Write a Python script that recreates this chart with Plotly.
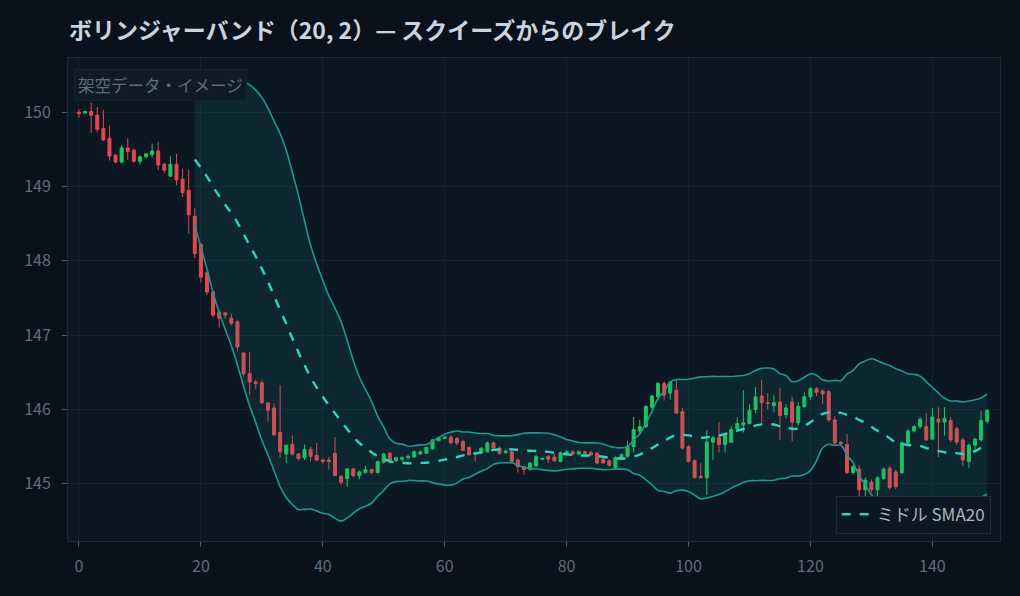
import plotly.graph_objects as go
import pandas as pd

idx = list(range(150))

open_ = [150.00,149.99,150.01,149.96,149.78,149.65,149.42,149.33,149.52,149.49,
         149.34,149.40,149.43,149.48,149.30,149.14,149.30,149.10,148.95,148.60,
         148.22,147.84,147.58,147.31,147.30,147.23,147.18,146.76,146.48,146.37,
         146.36,146.09,146.02,145.69,145.40,145.53,145.40,145.35,145.46,145.38,
         145.32,145.32,145.41,145.10,145.07,145.20,145.11,145.15,145.19,145.15,
         145.29,145.41,145.31,145.33,145.35,145.36,145.40,145.41,145.47,145.58,
         145.61,145.63,145.61,145.57,145.49,145.42,145.42,145.43,145.55,145.48,
         145.42,145.43,145.32,145.23,145.19,145.24,145.33,145.37,145.36,145.30,
         145.40,145.43,145.40,145.43,145.42,145.41,145.33,145.31,145.22,145.33,
         145.37,145.50,145.71,145.77,146.03,146.17,146.35,146.22,146.26,145.97,
         145.50,145.31,145.10,145.08,145.56,145.62,145.53,145.56,145.74,145.79,
         145.81,146.00,146.18,146.09,146.05,146.10,145.93,146.10,145.82,146.04,
         146.17,146.28,146.25,146.24,145.86,145.56,145.53,145.15,145.20,144.92,
         145.02,144.92,145.07,145.21,145.16,145.15,145.55,145.71,145.77,145.77,
         145.60,145.87,145.83,145.85,145.74,145.59,145.30,145.52,145.59,145.84]

high = [150.04,150.02,150.13,150.07,150.03,149.82,149.44,149.56,149.65,149.51,
        149.42,149.45,149.58,149.60,149.32,149.41,149.44,149.24,149.23,148.71,
        148.24,147.86,147.60,147.34,147.31,147.29,147.20,146.77,146.77,146.40,
        146.40,146.10,146.08,146.33,145.52,145.65,145.41,145.53,145.50,145.55,
        145.34,145.36,145.63,145.12,145.21,145.21,145.18,145.24,145.20,145.31,
        145.42,145.43,145.36,145.37,145.39,145.45,145.45,145.50,145.60,145.63,
        145.64,145.66,145.63,145.59,145.50,145.43,145.49,145.57,145.57,145.50,
        145.46,145.45,145.34,145.24,145.29,145.39,145.35,145.38,145.40,145.43,
        145.45,145.45,145.45,145.45,145.44,145.43,145.35,145.33,145.37,145.41,
        145.58,145.90,145.86,146.06,146.20,146.37,146.38,146.38,146.41,146.02,
        145.52,145.33,145.28,145.72,145.64,145.83,145.68,145.78,145.89,146.26,
        146.07,146.30,146.40,146.22,146.19,146.29,146.07,146.17,146.10,146.23,
        146.30,146.30,146.27,146.26,145.91,145.57,145.67,145.25,145.25,145.09,
        145.06,145.10,145.22,145.24,145.19,145.57,145.74,145.79,145.90,145.95,
        146.02,146.03,146.03,145.90,145.77,145.62,145.54,145.62,145.98,146.00]

low = [149.93,149.98,149.72,149.73,149.61,149.35,149.31,149.31,149.36,149.32,
       149.30,149.38,149.39,149.22,149.18,149.13,149.02,148.86,148.37,148.04,
       147.71,147.54,147.24,147.10,147.22,147.13,146.78,146.44,146.20,146.27,
       146.07,145.84,145.64,145.35,145.28,145.38,145.31,145.32,145.30,145.30,
       145.27,145.19,145.10,144.98,144.96,145.09,145.06,145.14,145.13,145.14,
       145.27,145.28,145.29,145.30,145.33,145.35,145.39,145.40,145.46,145.57,
       145.60,145.53,145.52,145.44,145.38,145.30,145.40,145.42,145.46,145.39,
       145.40,145.28,145.15,145.12,145.18,145.22,145.32,145.28,145.29,145.29,
       145.39,145.38,145.39,145.40,145.37,145.26,145.27,145.23,145.19,145.32,
       145.35,145.42,145.66,145.75,145.99,146.12,146.12,146.13,145.95,145.46,
       145.29,145.08,145.08,144.85,145.32,145.42,145.42,145.55,145.70,145.69,
       145.80,145.95,145.82,146.00,145.96,145.59,145.88,145.57,145.78,146.02,
       146.13,146.18,146.07,145.83,145.53,145.52,145.13,145.12,144.81,144.74,
       144.89,144.80,145.05,144.92,144.93,145.13,145.52,145.69,145.74,145.58,
       145.59,145.36,145.65,145.56,145.52,145.24,145.21,145.44,145.57,145.81]

close = [149.98,150.01,149.96,149.77,149.63,149.41,149.33,149.52,149.47,149.34,
         149.40,149.44,149.48,149.29,149.22,149.30,149.09,148.92,148.62,148.10,
         147.78,147.58,147.27,147.23,147.27,147.16,146.84,146.48,146.37,146.35,
         146.09,145.99,145.66,145.43,145.52,145.40,145.34,145.46,145.37,145.32,
         145.30,145.30,145.11,145.02,145.20,145.11,145.16,145.19,145.15,145.30,
         145.40,145.31,145.35,145.35,145.37,145.43,145.43,145.49,145.59,145.62,
         145.63,145.55,145.55,145.45,145.39,145.41,145.48,145.55,145.48,145.41,
         145.44,145.30,145.23,145.19,145.28,145.37,145.34,145.33,145.31,145.42,
         145.43,145.40,145.43,145.41,145.39,145.28,145.28,145.25,145.35,145.39,
         145.50,145.73,145.77,146.04,146.18,146.35,146.19,146.37,145.95,145.48,
         145.30,145.08,145.08,145.56,145.62,145.53,145.65,145.73,145.81,145.82,
         145.99,146.17,146.09,146.08,146.09,145.92,146.02,145.83,146.04,146.17,
         146.28,146.23,146.21,145.86,145.55,145.54,145.15,145.23,144.92,145.05,
         144.92,145.08,145.20,144.95,144.96,145.55,145.71,145.77,145.87,145.59,
         145.90,145.83,145.88,145.59,145.56,145.32,145.52,145.60,145.85,145.99]

title_text = "ボリンジャーバンド（20, 2）— スクイーズからのブレイク"
note_text = "架空データ・イメージ"
legend_mid = "ミドル SMA20"
x_ticks = [0, 20, 40, 60, 80, 100, 120, 140]
y_ticks = [145, 146, 147, 148, 149, 150]

s = pd.Series(close, index=idx)
mid = s.rolling(20).mean()
sd = s.rolling(20).std(ddof=0)
upper = mid + 2 * sd
lower = mid - 2 * sd
valid = mid.dropna().index.tolist()

FONT = "Noto Sans CJK JP"
fig = go.Figure()

fig.add_trace(go.Scatter(x=valid, y=upper[valid].tolist(), mode="lines",
                         line=dict(color="#1f9792", width=1.6, shape="spline"),
                         showlegend=False, hoverinfo="skip"))
fig.add_trace(go.Scatter(x=valid, y=lower[valid].tolist(), mode="lines",
                         line=dict(color="#1f9792", width=1.6, shape="spline"),
                         fill="tonexty", fillcolor="rgba(32,150,146,0.13)",
                         showlegend=False, hoverinfo="skip"))
fig.add_trace(go.Candlestick(x=idx, open=open_, high=high, low=low, close=close,
                             increasing=dict(line=dict(color="#22c55e", width=1), fillcolor="#22c55e"),
                             decreasing=dict(line=dict(color="#e5484d", width=1), fillcolor="#e5484d"),
                             showlegend=False, whiskerwidth=0))
fig.add_trace(go.Scatter(x=valid, y=mid[valid].tolist(), mode="lines", name=legend_mid,
                         line=dict(color="#2dd4bf", width=2.4, dash="dash", shape="spline")))

fig.update_layout(
    width=1020, height=596,
    paper_bgcolor="#09121c", plot_bgcolor="#0b1722",
    margin=dict(l=68, r=20, t=58, b=55),
    font=dict(family=FONT, color="#6b7a8a", size=16),
    title=dict(text=f"<b>{title_text}</b>", x=0, xref="paper", xanchor="left",
               y=1, yref="container", yanchor="top", pad=dict(t=23, l=1),
               font=dict(family=FONT, size=23, color="#c9d4df")),
    xaxis=dict(range=[-1.8, 151.1], tickvals=x_ticks, showgrid=True, gridcolor="#15222f",
               zeroline=False, showline=True, linecolor="#1c2a38", mirror=True,
               ticks="outside", ticklen=5, tickcolor="#4a5866", ticklabelstandoff=6,
               rangeslider=dict(visible=False), tickfont=dict(size=16, color="#5f6e7d")),
    yaxis=dict(range=[144.23, 150.73], tickvals=y_ticks, showgrid=True, gridcolor="#15222f",
               zeroline=False, showline=True, linecolor="#1c2a38", mirror=True,
               ticks="outside", ticklen=5, tickcolor="#4a5866", ticklabelstandoff=8,
               tickfont=dict(size=16, color="#5f6e7d")),
    legend=dict(x=0.99, y=0.015, xanchor="right", yanchor="bottom",
                bgcolor="#0b1722", bordercolor="#1e2d3b", borderwidth=1,
                font=dict(size=17, color="#aab5c0")),
    annotations=[dict(text=note_text, xref="paper", yref="paper", x=0.006, y=0.978,
                      xanchor="left", yanchor="top", showarrow=False,
                      font=dict(size=16.5, color="#5f6e7d", family=FONT),
                      bgcolor="#0f1c27", bordercolor="#15222f", borderwidth=1, borderpad=3)],
)

fig.write_html("out.html")
